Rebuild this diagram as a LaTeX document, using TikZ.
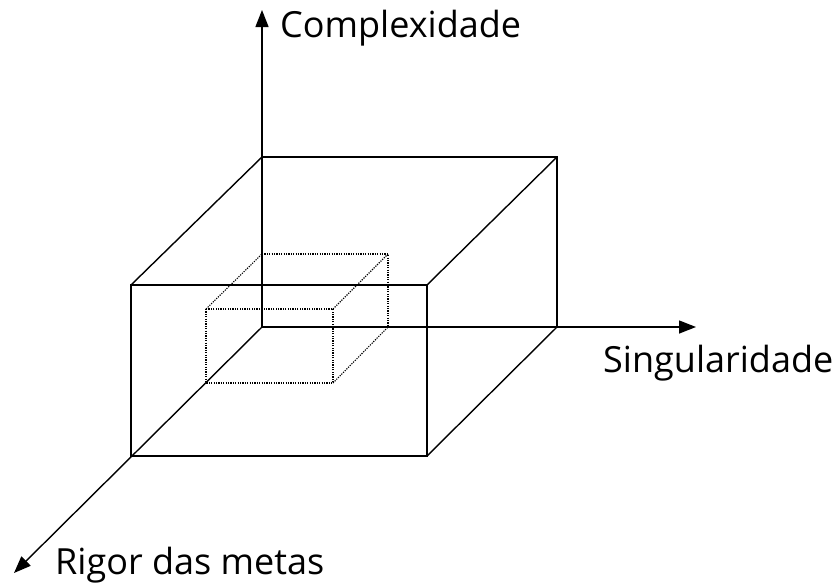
\documentclass[tikz,border=0pt]{standalone}
\usepackage{fontspec}
\setmainfont{Open Sans}
\usetikzlibrary{arrows.meta, calc}
\tikzset{
  eixo/.style={line width=1.4pt, -{Triangle[length=17pt, width=13pt]}},
  caixa/.style={line width=1.4pt},
  caixinha/.style={line width=1.1pt, dash pattern=on 1.2pt off 1.2pt},
  rotulo/.style={anchor=base west, inner sep=0pt, font=\fontsize{36}{40}\selectfont}
}

\begin{document}
\begin{tikzpicture}[x=1pt, y=-1pt]
        \useasboundingbox (0,0) rectangle (835,587);
        \coordinate (o) at (262,327);
        \coordinate (ytip) at (262,10);
        \coordinate (xtip) at (696,327);
        \coordinate (ztip) at (14,573);
        % caixa grande
        \draw[caixa] (131,285) rectangle (427,456);
        \draw[caixa] (262,157) -- (557,157) -- (557,327);
        \foreach \x/\y/\xb/\yb in {131/285/262/157, 427/285/557/157, 427/456/557/327} {
          \draw[caixa] (\x,\y) -- (\xb,\yb);
        }
        % caixa pequena
        \draw[caixinha] (206,309) rectangle (333,383);
        \draw[caixinha] (262,254) -- (388,254) -- (388,327);
        \foreach \x/\y/\xb/\yb in {206/309/262/254, 333/309/388/254, 333/383/388/327} {
          \draw[caixinha] (\x,\y) -- (\xb,\yb);
        }
        % eixos
        \draw[eixo] (o) -- (ytip);
        \draw[eixo] (o) -- (xtip);
        \draw[eixo] (o) -- (ztip);
        \node[rotulo] (complex) at (280,37) {Complexidade};
        \node[rotulo] (singul) at (603,372) {Singularidade};
        \node[rotulo] (rigor) at (55,574) {Rigor das metas};
      \end{tikzpicture}
\end{document}
